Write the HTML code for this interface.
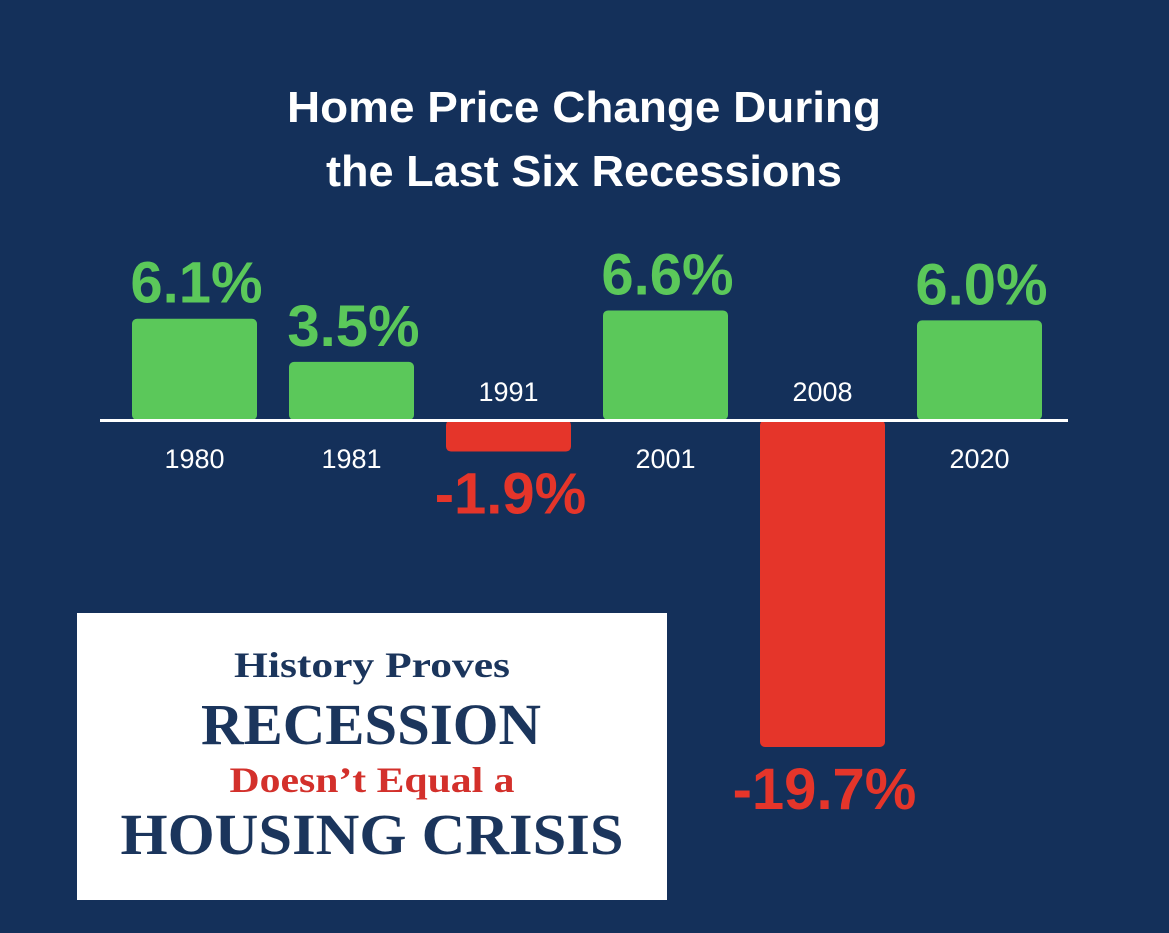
<!DOCTYPE html>
<html><head><meta charset="utf-8"><style>
html,body{margin:0;padding:0;background:#14305a;}
svg{display:block;}
</style></head><body>
<svg id="chart" width="1169" height="933" viewBox="0 0 1169 933" xmlns="http://www.w3.org/2000/svg">
<rect x="0" y="0" width="1169" height="933" fill="#14305a"/>
<text x="584" y="122" text-anchor="middle" fill="#fff" font-family="Liberation Sans, sans-serif" font-weight="bold" font-size="44" textLength="594" lengthAdjust="spacingAndGlyphs">Home Price Change During</text>
<text x="584" y="186" text-anchor="middle" fill="#fff" font-family="Liberation Sans, sans-serif" font-weight="bold" font-size="44" textLength="516" lengthAdjust="spacingAndGlyphs">the Last Six Recessions</text>
<g id="bars"></g>
<line x1="100" y1="420.5" x2="1068" y2="420.5" stroke="#fff" stroke-width="3"/>
<rect x="77" y="613" width="590" height="287" fill="#fff"/>
<text x="372" y="677" text-anchor="middle" fill="#1b355c" font-family="Liberation Serif, serif" font-weight="bold" font-size="36" textLength="276" lengthAdjust="spacingAndGlyphs">History Proves</text>
<text x="371" y="744" text-anchor="middle" fill="#1b355c" font-family="Liberation Serif, serif" font-weight="bold" font-size="58" textLength="340" lengthAdjust="spacingAndGlyphs">RECESSION</text>
<text x="372" y="792" text-anchor="middle" fill="#d3302b" font-family="Liberation Serif, serif" font-weight="bold" font-size="36" textLength="285" lengthAdjust="spacingAndGlyphs">Doesn’t Equal a</text>
<text x="372" y="854" text-anchor="middle" fill="#1b355c" font-family="Liberation Serif, serif" font-weight="bold" font-size="58" textLength="503" lengthAdjust="spacingAndGlyphs">HOUSING CRISIS</text>
</svg>
<script>
const years = ["1980","1981","1991","2001","2008","2020"];
const changes = [6.1, 3.5, -1.9, 6.6, -19.7, 6.0];
const valueLabels = ["6.1%","3.5%","-1.9%","6.6%","-19.7%","6.0%"];

const NS = "http://www.w3.org/2000/svg";
const baseY = 420;
const pxPerPct = 16.6;
const firstX = 132, step = 157, barW = 125;
function xPos(i){ return firstX + i*step; }
function yPos(v){ return baseY - v*pxPerPct; }
const g = document.getElementById("bars");
function mk(tag, attrs){ const e=document.createElementNS(NS,tag); for(const k in attrs) e.setAttribute(k,attrs[k]); g.appendChild(e); return e; }
changes.forEach((v,i)=>{
  const x = xPos(i), cx = x + barW/2;
  const y0 = yPos(Math.max(v,0)), y1 = yPos(Math.min(v,0));
  const pos = v >= 0;
  const bar = mk("rect",{x:x, y:y0, width:barW, height:Math.max(y1-y0,0), rx:5, fill: pos?"#5bc85a":"#e5352a"});
  
  
  const vl = mk("text",{x:cx+2, y: pos ? y0-16 : y1+62, "text-anchor":"middle", fill: pos?"#5bc85a":"#e5352a", "font-family":"Liberation Sans, sans-serif", "font-weight":"bold", "font-size":"58"});
  vl.textContent = valueLabels[i];
  
  
  const yl = mk("text",{x:cx, y: pos ? 468 : 401, "text-anchor":"middle", fill:"#fff", "font-family":"Liberation Sans, sans-serif", "font-size":"27"});
  yl.textContent = years[i];
  
  
});
</script>
</body></html>
